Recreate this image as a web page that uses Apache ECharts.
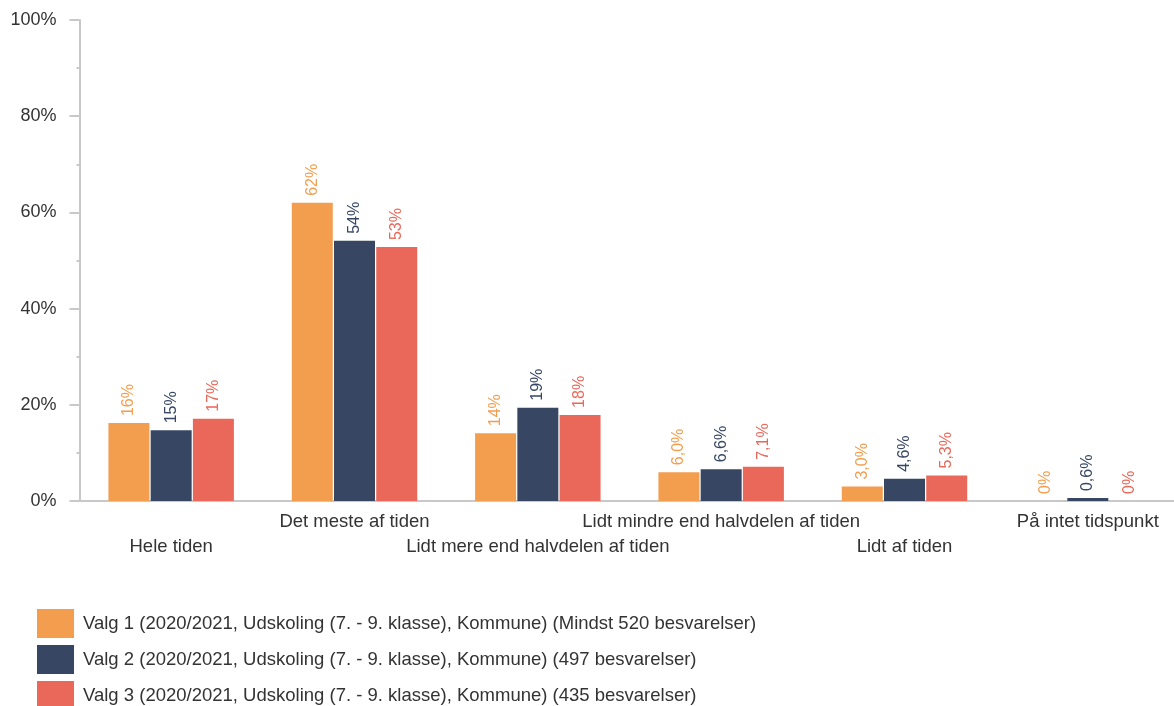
<!DOCTYPE html>
<html>
<head>
<meta charset="utf-8">
<script src="https://cdn.jsdelivr.net/npm/echarts@6/dist/echarts.min.js"></script>
<style>
  html, body { margin: 0; padding: 0; background: #fff; }
  #chart { width: 1174px; height: 706px; }
</style>
</head>
<body>
<div id="chart"></div>
<script>
const categories = ['Hele tiden', 'Det meste af tiden', 'Lidt mere end halvdelen af tiden',
  'Lidt mindre end halvdelen af tiden', 'Lidt af tiden', 'På intet tidspunkt']
const seriesNames = [
  'Valg 1 (2020/2021, Udskoling (7. - 9. klasse), Kommune) (Mindst 520 besvarelser)',
  'Valg 2 (2020/2021, Udskoling (7. - 9. klasse), Kommune) (497 besvarelser)',
  'Valg 3 (2020/2021, Udskoling (7. - 9. klasse), Kommune) (435 besvarelser)'
]
const valg1 = [16.2, 62.0, 14.1, 6.0, 3.0, 0]
const valg2 = [14.7, 54.1, 19.4, 6.6, 4.6, 0.6]
const valg3 = [17.1, 52.8, 17.9, 7.1, 5.3, 0]
const colors = ['#f39e4f', '#374763', '#ea685a']

// procent-format som i originalen: heltal over 10, ellers en decimal med komma
function fmt(v) {
  if (v === 0) return '0%'
  if (v >= 10) return Math.round(v) + '%'
  return v.toFixed(1).replace('.', ',') + '%'
}

const chart = echarts.init(document.getElementById('chart'))

const series = [valg1, valg2, valg3].map((d, i) => ({
  name: seriesNames[i],
  type: 'bar',
  data: d,
  barWidth: 41,
  barGap: '3%',
  itemStyle: { color: colors[i] },
  label: {
    show: true,
    position: 'top',
    rotate: 90,
    align: 'left',
    verticalAlign: 'middle',
    distance: 7,
    fontFamily: 'Liberation Sans',
    fontSize: 16,
    color: colors[i],
    formatter: p => fmt(p.value)
  }
}))

chart.setOption({
  animation: false,
  textStyle: { fontFamily: 'Liberation Sans' },
  grid: { left: 79.5, width: 1100, top: 20, bottom: 205, outerBoundsMode: 'none', containLabel: false },
  legend: {
    orient: 'vertical',
    left: 37,
    top: 609,
    padding: 0,
    height: 120,
    itemWidth: 37,
    itemHeight: 29,
    itemGap: 7,
    icon: 'rect',
    textStyle: { fontSize: 18.5, color: '#333', fontFamily: 'Liberation Sans', padding: [0, 0, 0, 4] },
    data: seriesNames
  },
  xAxis: {
    type: 'category',
    data: categories,
    axisLine: { lineStyle: { color: '#c8c8c8', width: 2 } },
    axisTick: { show: false },
    axisLabel: {
      interval: 0,
      margin: 8,
      fontSize: 18.5,
      lineHeight: 25,
      color: '#333',
      formatter: (v, i) => (i % 2 === 0 ? '\n' + v : v)
    }
  },
  yAxis: {
    type: 'value',
    min: 0,
    max: 100,
    interval: 20,
    axisLine: { show: true, lineStyle: { color: '#c8c8c8', width: 2 } },
    axisTick: { show: true, length: 10, lineStyle: { color: '#c8c8c8', width: 2 } },
    minorTick: { show: true, splitNumber: 2, length: 3, lineStyle: { color: '#c8c8c8', width: 2 } },
    splitLine: { show: false },
    axisLabel: {
      margin: 23,
      fontSize: 18,
      color: '#333',
      formatter: v => v + '%'
    }
  },
  series: series
})
</script>
</body>
</html>
